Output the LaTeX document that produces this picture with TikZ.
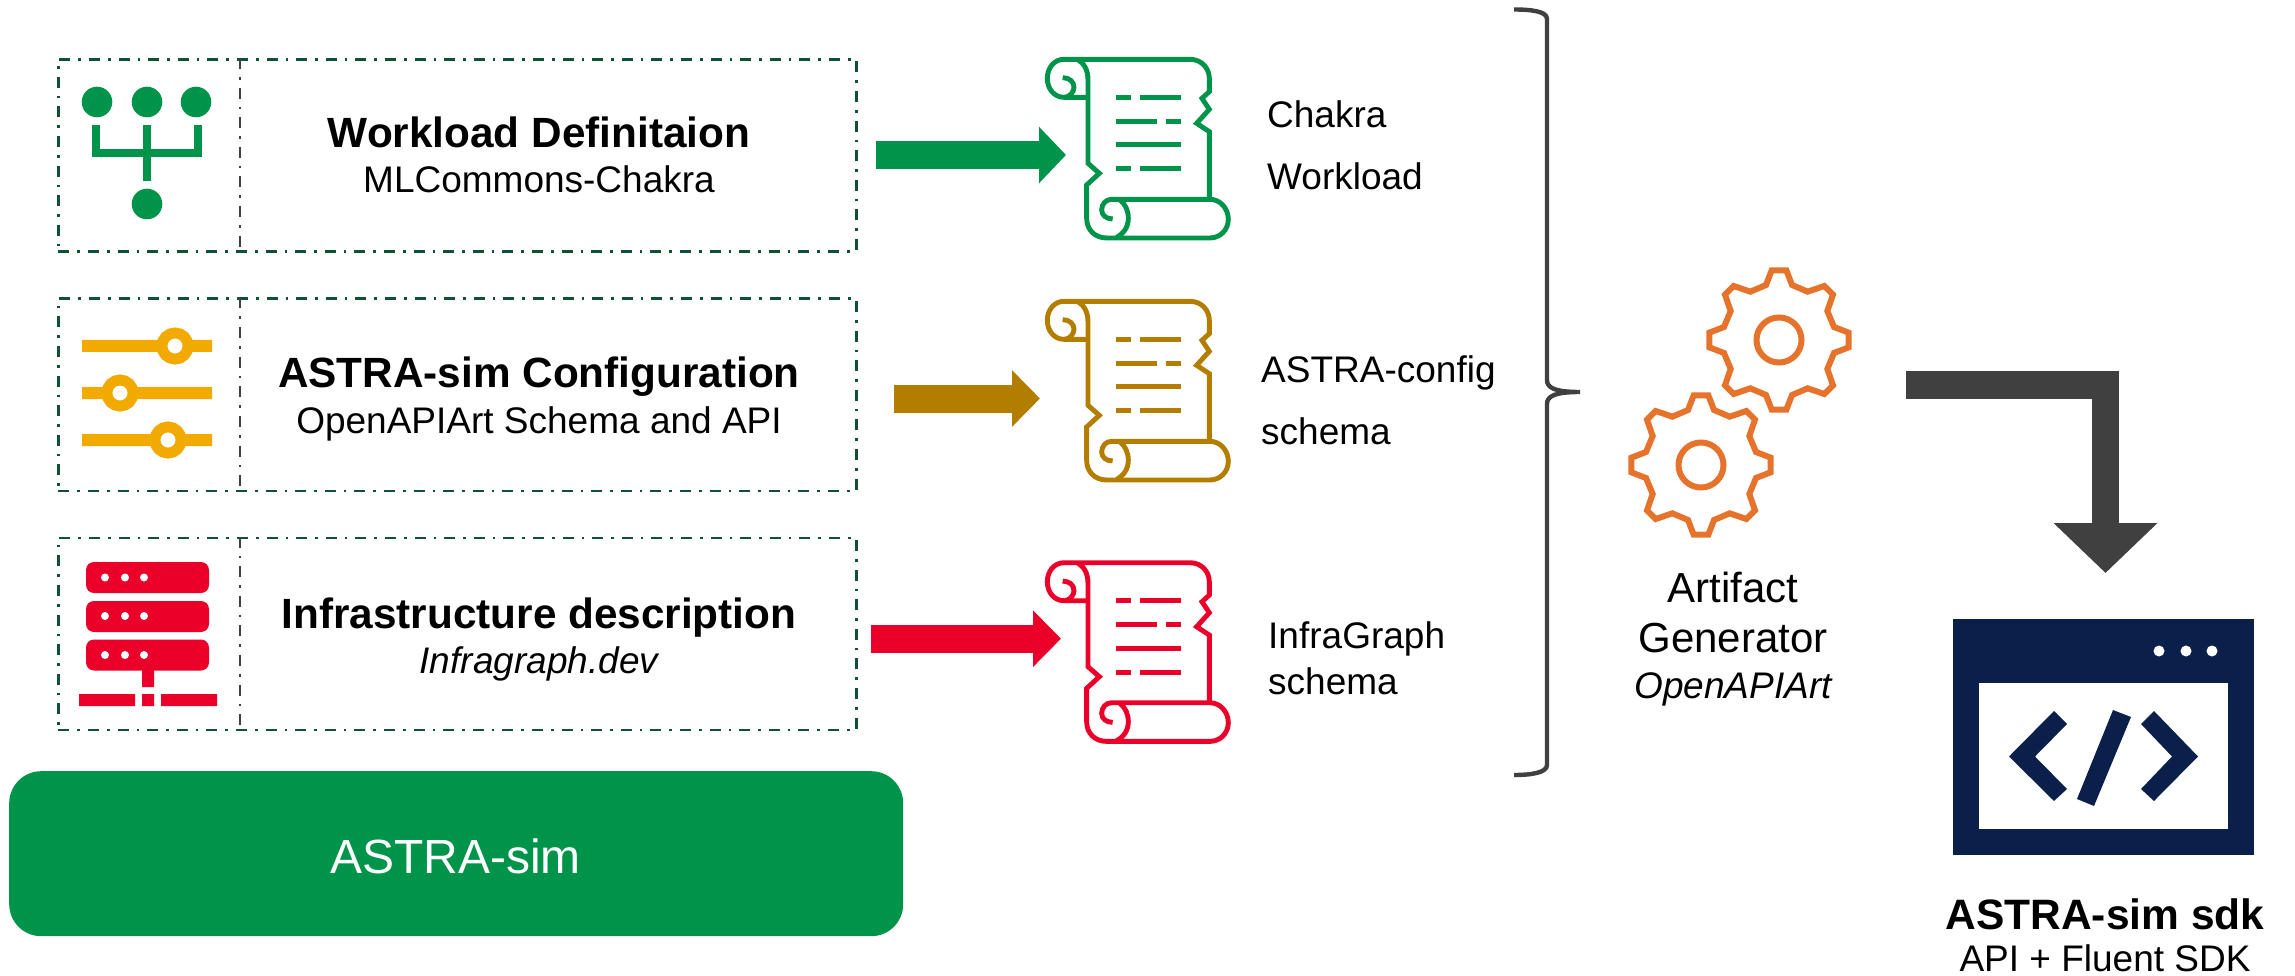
\documentclass[tikz,border=0pt]{standalone}
\usepackage{fontspec}
\setmainfont{Liberation Sans}
\usetikzlibrary{arrows.meta}
\definecolor{cgreen}{HTML}{00934A}
\definecolor{cyellow}{HTML}{F2A900}
\definecolor{cbrown}{HTML}{B37D00}
\definecolor{cred}{HTML}{EA0029}
\definecolor{corange}{HTML}{E5732B}
\definecolor{cnavy}{HTML}{0A1F4A}
\definecolor{cgray}{HTML}{404040}
\definecolor{cdash}{HTML}{0F5132}
\tikzset{
  panel/.style={draw=cdash,line width=2.6pt,dash pattern=on 11pt off 8pt on 2.6pt off 8pt,
    minimum width=798pt,minimum height=192pt,inner sep=0pt,anchor=north west},
  divider/.style={draw=cgray,line width=2.6pt,dash pattern=on 11pt off 8pt on 2.6pt off 8pt},
  lbl/.style={inner sep=0pt,anchor=base,text=black},
  lblw/.style={lbl,anchor=base west},
  blockarrow/.style={line width=28pt,line cap=butt,-{Triangle[length=#1,width=55pt]}},
  blockarrow/.default=28pt,
  fsA/.style={font=\fontsize{42.3}{46}\bfseries\selectfont},
  fsB/.style={font=\fontsize{37}{42}\selectfont},
  fsC/.style={font=\fontsize{37}{42}\selectfont},
  fsD/.style={font=\fontsize{37}{42}\itshape\selectfont},
  fsE/.style={font=\fontsize{42}{46}\selectfont},
  fsF/.style={font=\fontsize{42.5}{46}\bfseries\selectfont},
  fsG/.style={font=\fontsize{48}{52}\selectfont},
}
\newcommand{\scrollicon}[2]{%
 \begin{scope}[shift={(1020,#2)},x=0.3333pt,y=-0.3333pt]
  \draw[#1,line width=4.9pt,line join=miter,miter limit=6]
    (132,58) -- (510,58) .. controls (545,58) and (568,85) .. (568,115) -- (568,155)
    -- (546,175) -- (568,208) -- (530,250) -- (568,275) -- (568,478);
  \draw[#1,line width=4.9pt,line join=round]
    (204,172) -- (132,172) .. controls (103,172) and (82,147) .. (82,115)
    .. controls (82,83) and (103,58) .. (132,58);
  \draw[#1,line width=4.9pt,line join=miter,miter limit=6]
    (175,60) .. controls (192,70) and (204,90) .. (204,120) -- (204,370) -- (238,400)
    -- (200,435) -- (200,535) .. controls (200,570) and (225,594) .. (260,594) -- (570,594)
    .. controls (600,594) and (625,570) .. (625,538) .. controls (625,505) and (600,478) .. (570,478)
    -- (275,478) .. controls (258,478) and (245,492) .. (245,510)
    .. controls (245,525) and (258,537) .. (278,537);
  \draw[#1,line width=4.9pt]
    (300,480) .. controls (316,492) and (325,512) .. (325,535)
    .. controls (325,560) and (312,580) .. (290,592);
  \draw[#1,line width=4.9pt]
    (128,113) .. controls (148,113) and (162,125) .. (162,142)
    .. controls (162,155) and (150,170) .. (135,172);
  \draw[#1,line width=5pt]
    (288,172) -- (333,172) (360,172) -- (482,172)
    (288,244) -- (411,244) (438,244) -- (482,244)
    (288,315) -- (482,315)
    (288,386) -- (333,386) (360,386) -- (482,386);
 \end{scope}}
\newcommand{\gearicon}[2]{%
 \begin{scope}[shift={(#1,#2)}]
  \draw[corange,line width=6pt] (0,0) circle[radius=22.5pt];
  \begin{scope}[x=0.3333pt,y=-0.3333pt]
  \draw[corange,line width=6pt,line join=miter,miter limit=4]
    (22,-209) -- (39,-165) -- (86,-145) -- (136,-162) -- (162,-136) -- (145,-87) -- (165,-39) -- (209,-22)
    -- (209,22) -- (165,39) -- (145,87) -- (162,136) -- (136,162) -- (86,145) -- (39,165) -- (22,209)
    -- (-22,209) -- (-39,165) -- (-86,145) -- (-136,162) -- (-162,136) -- (-145,87) -- (-165,39) -- (-209,22)
    -- (-209,-22) -- (-165,-39) -- (-145,-87) -- (-162,-136) -- (-136,-162) -- (-86,-145) -- (-39,-165) -- (-22,-209)
    -- cycle;
  \end{scope}
 \end{scope}}
\begin{document}
\begin{tikzpicture}[x=1pt,y=-1pt]
\useasboundingbox (0,0) rectangle (2295,976);
% panels
\node[panel] (p1) at (57,58) {};
\node[panel] (p2) at (57,297.5) {};
\node[panel] (p3) at (57,536.5) {};
\draw[divider] (240,0 |- p1.north) -- (240,0 |- p1.south);
\draw[divider] (240,0 |- p2.north) -- (240,0 |- p2.south);
\draw[divider] (240,0 |- p3.north) -- (240,0 |- p3.south);
% panel texts
\node[lbl,fsA] (t1a) at (539,148) {Workload Definitaion};
\node[lbl,fsB] (t1b) at (539,193) {MLCommons-Chakra};
\node[lbl,fsA] (t2a) at (539,388) {ASTRA-sim Configuration};
\node[lbl,fsB] (t2b) at (539,433) {OpenAPIArt Schema and API};
\node[lbl,fsA] (t3a) at (539,628) {Infrastructure description};
\node[lbl,fsD] (t3b) at (539,673) {Infragraph.dev};
% icon 1: tree
\fill[cgreen] (97,102) circle[radius=15.3pt] (147,102) circle[radius=15.3pt]
  (196,102) circle[radius=15.3pt] (147,204) circle[radius=15.3pt];
\draw[cgreen,line width=7.7pt,line join=miter] (96,125) -- (96,153) -- (198,153) -- (198,125);
\draw[cgreen,line width=7.7pt] (147,125) -- (147,181);
% icon 2: sliders
\begin{scope}[cyellow]
\fill (82,340) rectangle (212,352) (82,387) rectangle (212,399) (82,434) rectangle (212,446);
\draw[line width=10.8pt,fill=white] (175,346) circle[radius=13.1pt];
\draw[line width=10.8pt,fill=white] (120,393) circle[radius=13.1pt];
\draw[line width=10.8pt,fill=white] (168,440) circle[radius=13.1pt];
\end{scope}
% icon 3: server
\fill[cred,rounded corners=8pt] (86,562) rectangle (209,593);
\fill[cred,rounded corners=8pt] (86,601) rectangle (209,632);
\fill[cred,rounded corners=8pt] (86,639.5) rectangle (209,670.5);
\fill[white] (105,577.5) circle[radius=4pt] (125,577.5) circle[radius=4pt] (144,577.5) circle[radius=4pt]
  (105,616) circle[radius=4pt] (125,616) circle[radius=4pt] (144,616) circle[radius=4pt]
  (105,655) circle[radius=4pt] (125,655) circle[radius=4pt] (144,655) circle[radius=4pt];
\fill[cred] (142,670) rectangle (154,687) (79,694) rectangle (135,706) (142,694) rectangle (154,706)
  (161,694) rectangle (217,706);
% ASTRA-sim bar
\node[fill=cgreen,rounded corners=32pt,minimum width=894pt,minimum height=165pt,inner sep=0pt,anchor=north west] (sim) at (9,771) {};
\node[lbl,fsG,text=white] (simt) at (455.5,873) {ASTRA-sim};
% block arrows
\coordinate (g0) at (876,155); \coordinate (g1) at (1066,155);
\coordinate (b0) at (894,398.5); \coordinate (b1) at (1040,398.5);
\coordinate (r0) at (871,638.7); \coordinate (r1) at (1061,638.7);
\draw[blockarrow=27pt,cgreen] (g0) -- (g1);
\draw[blockarrow=28pt,cbrown] (b0) -- (b1);
\draw[blockarrow=28pt,cred] (r0) -- (r1);
% scrolls
\scrollicon{cgreen}{40}
\scrollicon{cbrown}{282}
\scrollicon{cred}{543.4}
% scroll labels
\node[lblw,fsC] (s1a) at (1267,128) {Chakra};
\node[lblw,fsC] (s1b) at (1267,190) {Workload};
\node[lblw,fsC] (s2a) at (1261,382) {ASTRA-config};
\node[lblw,fsC] (s2b) at (1261,444) {schema};
\node[lblw,fsC] (s3a) at (1268,648) {InfraGraph};
\node[lblw,fsC] (s3b) at (1268,694) {schema};
% brace
\draw[cgray,line width=4.4pt,line cap=butt]
  (1514,9.5) .. controls (1530,9.5) and (1547,11) .. (1547,19) -- (1547,380)
  .. controls (1547,388) and (1555,392) .. (1580,392)
  .. controls (1555,392) and (1547,396) .. (1547,404) -- (1547,765)
  .. controls (1547,773) and (1530,775) .. (1514,775);
% gears
\gearicon{1779}{340}
\gearicon{1701}{465}
\node[lbl,fsE] (a1) at (1733,602) {Artifact};
\node[lbl,fsE] (a2) at (1733,652) {Generator};
\node[lbl,fsD] (a3) at (1733,698) {OpenAPIArt};
% L arrow
\coordinate (l0) at (1906,385); \coordinate (l1) at (2105.5,573);
\draw[cgray,line width=27.5pt,line join=miter,-{Triangle[length=50pt,width=101pt]}] (l0) -| (l1);
% window
\node[fill=cnavy,minimum width=301pt,minimum height=236pt,inner sep=0pt,anchor=north west] (win) at (1953,619) {};
\node[fill=white,minimum width=249pt,minimum height=146pt,inner sep=0pt,anchor=north west] (winb) at (1979,683) {};
\fill[white] (2159,651) circle[radius=5.5pt] (2186,651) circle[radius=5.5pt] (2212,651) circle[radius=5.5pt];
\fill[cnavy] (2009,756.5) -- (2054,711) -- (2067,724) -- (2035,756.5) -- (2067,789) -- (2054,801) -- cycle;
\fill[cnavy] (2113,710) -- (2131,717) -- (2094,806) -- (2077,799) -- cycle;
\fill[cnavy] (2198,756.5) -- (2154,711) -- (2141,724) -- (2172,756.5) -- (2141,789) -- (2154,801) -- cycle;
\node[lbl,fsF] (w1) at (2105,929) {ASTRA-sim sdk};
\node[lbl,fsB] (w2) at (2105,971) {API + Fluent SDK};
\end{tikzpicture}
\end{document}
